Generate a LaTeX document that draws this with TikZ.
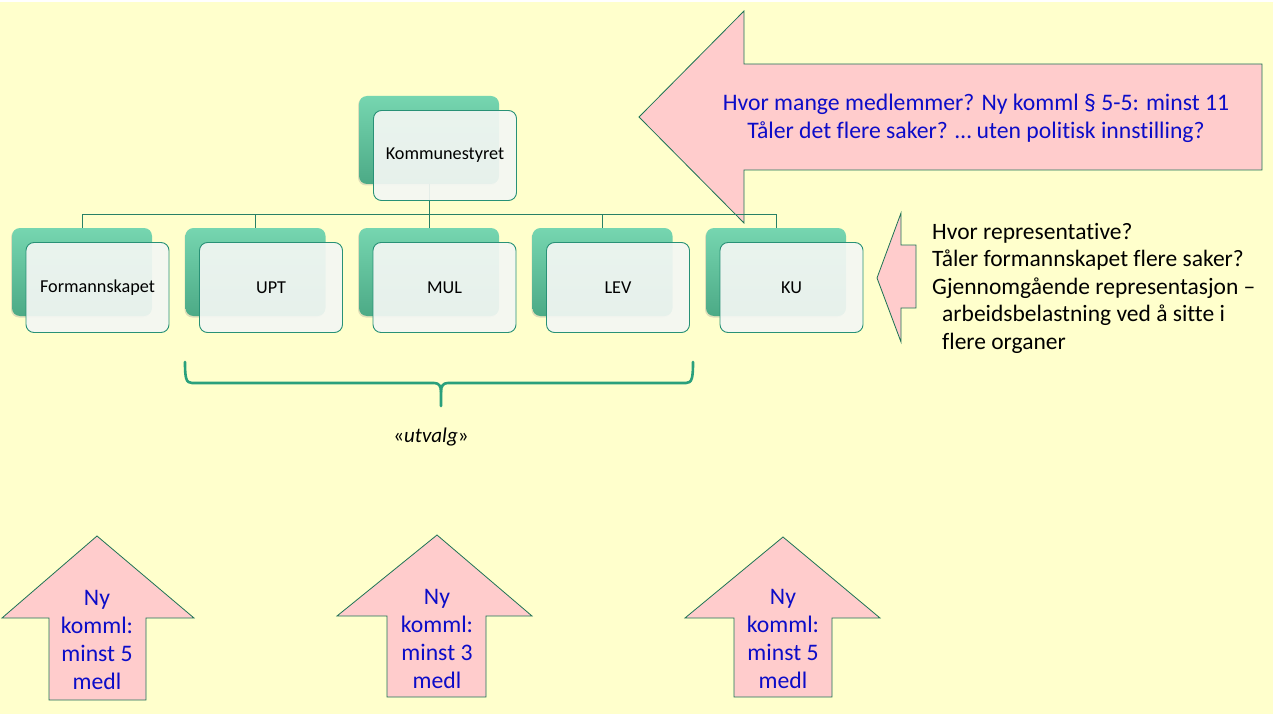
\documentclass[tikz,border=0pt]{standalone}
\usepackage{fontspec}
\setmainfont{Carlito}[Ligatures={NoCommon}]
\usetikzlibrary{shadows}
\definecolor{bg}{RGB}{255,255,204}
\definecolor{pinkf}{RGB}{255,204,204}
\definecolor{outl}{RGB}{30,115,85}
\definecolor{txtblue}{RGB}{12,12,200}
\definecolor{gtop}{RGB}{118,214,176}
\definecolor{gbot}{RGB}{76,170,134}
\definecolor{conn}{RGB}{40,128,102}
\definecolor{brk}{RGB}{42,160,124}
\definecolor{frontfill}{RGB}{244,247,244}
\definecolor{frontline}{RGB}{40,145,118}
\begin{document}
\begin{tikzpicture}[x=1pt,y=-1pt,
  backbox/.style={minimum width=140pt,minimum height=88pt,inner sep=0pt,
    rounded corners=8pt,top color=gtop,bottom color=gbot,draw=none,
    drop shadow={opacity=0.25,shadow xshift=-1pt,shadow yshift=-1.5pt}},
  frontbox/.style={minimum width=143pt,minimum height=90pt,inner sep=0pt,
    rounded corners=8pt,fill=frontfill,fill opacity=0.92,text opacity=1,
    draw=frontline,line width=0.9pt,font=\fontsize{18.2}{22}\selectfont},
  arrowshape/.style={fill=pinkf,draw=outl,line width=0.8pt,line join=miter},
  bluetext/.style={text=txtblue,align=center,inner sep=0pt,font=\fontsize{23.7}{28}\selectfont},
  conline/.style={draw=conn,line width=0.9pt},
  bracestyle/.style={draw=brk,line width=2.6pt,line cap=round}
]
\useasboundingbox (0,0) rectangle (1273,714);
\fill[bg] (0,0) rectangle (1273,714);
\fill[white] (0,0) rectangle (1273,2);

% big top arrow
\draw[arrowshape] (639,117) -- (744,11) -- (744,64) -- (1262,64) -- (1262,170)
  -- (744,170) -- (744,223) -- cycle;
\node[bluetext] (toptext) at (976,118) {Hvor mange medlemmer? Ny komml § 5-5: minst 11\\
  Tåler det flere saker? … uten politisk innstilling?};

% small right arrow
\draw[arrowshape] (877,278) -- (901,213) -- (901,245) -- (916,245) -- (916,308)
  -- (901,308) -- (901,342) -- cycle;
\node[anchor=north west,align=left,inner sep=0pt,font=\fontsize{23.5}{27.5}\selectfont]
  (righttext) at (932,223) {Hvor representative?\\
  Tåler formannskapet flere saker?\\
  Gjennomgående representasjon –\\
  \hspace*{10pt}arbeidsbelastning ved å sitte i\\
  \hspace*{10pt}flere organer};

% bottom arrows
\draw[arrowshape] (97,536) -- (194,618) -- (146,618) -- (146,700) -- (49,700)
  -- (49,618) -- (2,618) -- cycle;
\draw[arrowshape] (437,535) -- (532,616) -- (486,616) -- (486,697) -- (387,697)
  -- (387,616) -- (337,616) -- cycle;
\draw[arrowshape] (783,537) -- (880,618) -- (832,618) -- (832,697) -- (734,697)
  -- (734,618) -- (685,618) -- cycle;
\node[bluetext] (a1) at (97,640) {Ny\\komml:\\minst 5\\medl};
\node[bluetext] (a2) at (437,639) {Ny\\komml:\\minst 3\\medl};
\node[bluetext] (a3) at (783,639) {Ny\\komml:\\minst 5\\medl};

% back boxes
\node[backbox] (kB) at (429,140) {};
\node[backbox] (fB) at (82,272) {};
\node[backbox] (uB) at (255.5,272) {};
\node[backbox] (mB) at (429,272) {};
\node[backbox] (lB) at (602.5,272) {};
\node[backbox] (kuB) at (776,272) {};

% connectors
\coordinate (bus) at (0,214);
\draw[conline] (kB.south) -- (kB.south |- bus);
\draw[conline] (fB.north) |- (kuB.north |- bus) -- (kuB.north);
\draw[conline] (uB.north) -- (uB.north |- bus);
\draw[conline] (mB.north) -- (mB.north |- bus);
\draw[conline] (lB.north) -- (lB.north |- bus);

% front boxes
\node[frontbox] (k) at (445,155.5) {Kommunestyret};
\node[frontbox] (f) at (97.5,287.5) {Formannskapet};
\node[frontbox] (u) at (271,287.5) {UPT};
\node[frontbox] (m) at (444.5,287.5) {MUL};
\node[frontbox] (l) at (618,287.5) {LEV};
\node[frontbox] (ku) at (791.5,287.5) {KU};

% brace
\draw[bracestyle] (185,362) .. controls (185,378) and (186,383) .. (192,383)
  -- (434,383) .. controls (439,383) and (441,386) .. (441,392) -- (441,406);
\draw[bracestyle] (693,362) .. controls (693,378) and (692,383) .. (686,383)
  -- (448,383) .. controls (443,383) and (441,386) .. (441,392);
\node[inner sep=0pt,font=\fontsize{21}{25}\selectfont] (utv) at (431,437) {«\textit{utvalg}»};
\end{tikzpicture}
\end{document}
